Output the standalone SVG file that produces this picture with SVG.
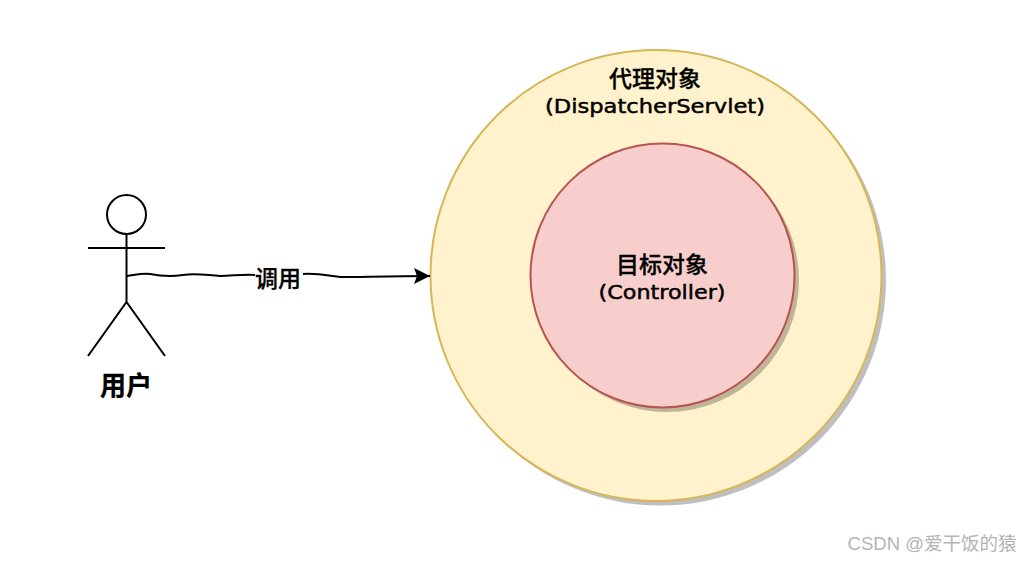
<svg xmlns="http://www.w3.org/2000/svg" width="1033" height="562" viewBox="0 0 1033 562">
<defs>
<style>
.t{font-family:"DejaVu Sans","Noto Sans CJK SC",sans-serif;fill:#000;stroke:#000;stroke-width:.5;text-anchor:middle}
.cjk{font-family:"Noto Sans CJK SC",sans-serif;font-weight:500;fill:#000;stroke:#000;stroke-width:.3;text-anchor:middle}
.st{fill:none;stroke:#000;stroke-width:2}
.shadow{fill:#000;opacity:.25}
</style>
<marker id="arrow" markerUnits="userSpaceOnUse" markerWidth="18" markerHeight="18" refX="16" refY="9" orient="auto"><path d="M0 1L16 9L0 17L3 9Z" fill="#000"/></marker>
</defs>
<rect width="1033" height="562" fill="#fff"/>
<g id="proxy">
<circle class="shadow" cx="660.500" cy="280" r="225.500"/>
<circle cx="656" cy="275.500" r="225.500" fill="#fff2cc" stroke="#d6b656" stroke-width="2"/>
<text class="cjk" x="655" y="87" font-size="23">代理对象</text>
<text class="t" x="655" y="113" font-size="20" textLength="220" lengthAdjust="spacingAndGlyphs">(DispatcherServlet)</text>
</g>
<g id="target">
<circle class="shadow" cx="667" cy="280" r="132"/>
<circle cx="662.500" cy="275.500" r="132" fill="#f8cecc" stroke="#b85450" stroke-width="2"/>
<text class="cjk" x="662" y="273" font-size="23">目标对象</text>
<text class="t" x="662" y="299" font-size="20" textLength="127" lengthAdjust="spacingAndGlyphs">(Controller)</text>
</g>
<g id="user">
<circle class="st" cx="126.500" cy="214.500" r="19.500"/>
<path class="st" d="M126.500 234V302M88 248H165M88 356L126.500 302L165 356"/>
<text class="cjk" x="126" y="395" font-size="26" style="font-weight:700">用户</text>
</g>
<g id="connectors">
<path d="M127 276C135 275 142 273 150 274C160 276 170 277 183 275C195 273 205 275 220 276C232 276 243 274 255 275" fill="none" stroke="#000" stroke-width="2"/>
<path d="M303 274C315 273 325 275 340 277C360 277 390 276 430 276" fill="none" stroke="#000" stroke-width="2" marker-end="url(#arrow)"/>
<text class="cjk" x="278" y="287" font-size="23" id="call-label">调用</text>
</g>
<text x="932" y="550" font-family="'Liberation Sans','Noto Sans CJK SC',sans-serif" font-size="18.500" fill="#b4b4b4" text-anchor="middle">CSDN @爱干饭的猿</text>
</svg>
